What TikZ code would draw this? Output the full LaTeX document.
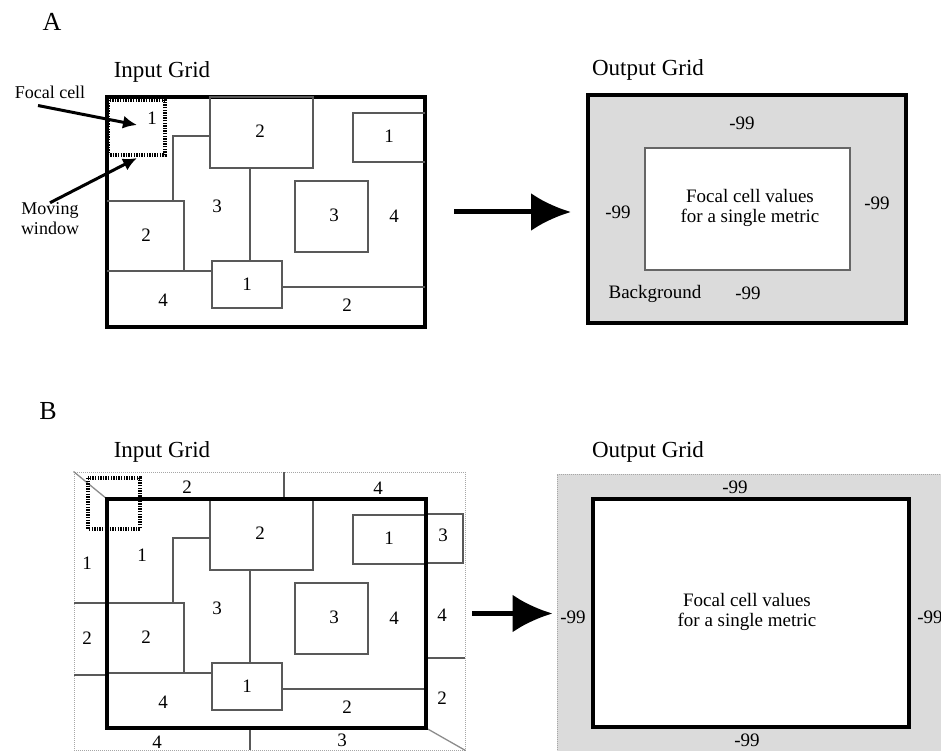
\documentclass[tikz,border=0pt]{standalone}
\usepackage{fontspec}
\setmainfont{Liberation Serif}
\usetikzlibrary{arrows.meta,positioning,calc}

% shared patches of the input grid (A coordinates, px)
\newcommand{\gridcore}[1]{%
  \draw[cell] (210,97) rectangle (313,168);
  \draw[cell] (425,113) -- (353,113) -- (353,162) -- (425,162);
  \draw[cell] (173,200) -- (173,136) -- (210,136);
  \draw[cell] (107,201) -- (184,201) -- (184,271);
  \draw[cell] (107,271) -- (212,271);
  \draw[cell] (250,168) -- (250,261);
  \draw[cell] (212,261) rectangle (282,308);
  \draw[cell] (282,287) -- (425,287);
  \draw[cell] (295,181) rectangle (368,252);
  \node[lbl] (#1two)   at (260,131) {2};
  \node[lbl] (#1one)   at (389,136) {1};
  \node[lbl] (#1three) at (217,206) {3};
  \node[lbl] (#1thrb)  at (334,215) {3};
  \node[lbl] (#1four)  at (394,216) {4};
  \node[lbl] (#1twol)  at (146,235) {2};
  \node[lbl] (#1oneb)  at (247,284) {1};
  \node[lbl] (#1fourb) at (163,300) {4};
  \node[lbl] (#1twob)  at (347,305) {2};
}

\begin{document}
\begin{tikzpicture}[
  x=1pt, y=-1pt,
  lbl/.style={font=\fontsize{19}{20}\selectfont, inner sep=0pt, align=center},
  ttl/.style={font=\fontsize{23}{25}\selectfont, inner sep=0pt},
  pan/.style={font=\fontsize{26}{28}\selectfont, inner sep=0pt},
  frame/.style={draw=black, line width=4pt, inner sep=0pt},
  cell/.style={draw=black!65, line width=1.3pt},
  win/.style={draw=black, line width=3.5pt, dash pattern=on 1.4pt off 1.2pt},
  rim/.style={draw=black!35, line width=1pt, dash pattern=on 1pt off 1pt, inner sep=0pt},
  ar/.style={-{Latex[length=14pt,width=13pt]}, line width=3pt},
  bigar/.style={-{Latex[length=40pt,width=38pt]}, line width=5pt}
]
\useasboundingbox (0,0) rectangle (941,751);

% ---------------- A ----------------
\node[pan] (pA) at (52,22) {A};
\node[ttl] (inAt)  at (162,72) {Input Grid};
\node[ttl] (outAt) at (648,70) {Output Grid};

\node[frame, minimum width=318pt, minimum height=230pt] (inA) at (266,212) {};
\gridcore{a}
\draw[win] (108,100) rectangle (165,155);
\node[lbl] (afoc) at (152,118) {1};

\node[lbl, font=\fontsize{18}{20}\selectfont] (fcl) at (50,92) {Focal cell};
\node[lbl, font=\fontsize{18}{20}\selectfont] (mwl) at (50,219) {Moving\\window};
\coordinate (fcp) at (137,125);
\coordinate (mwp) at (137,158);
\draw[ar] (fcl.south) ++(-12,7) -- (fcp);
\draw[ar] (mwl.north) -- (mwp);

\node[frame, fill=black!14, minimum width=318pt, minimum height=228pt] (outA) at (747,209) {};
\node[draw=black!60, line width=1.3pt, fill=white, minimum width=205pt, minimum height=122pt]
     (coreA) at (747.5,209) {};
\node[lbl] (valA) at (750,208) {Focal cell values\\for a single metric};
\node[lbl] (nA1) at (742,123) {-99};
\node[lbl] (nA2) at (618,212) {-99};
\node[lbl] (nA3) at (877,203) {-99};
\node[lbl] (nA4) at (748,293) {-99};
\node[lbl] (bgA) at (655,294) {Background};

\draw[bigar, shorten <=27pt, shorten >=15pt] (inA.east) -- (inA.east -| outA.west);

% ---------------- B ----------------
\node[pan] (pB) at (48,411) {B};
\node[ttl] (inBt)  at (162,452) {Input Grid};
\node[ttl] (outBt) at (648,452) {Output Grid};

\node[rim, minimum width=391pt, minimum height=278pt] (rimB) at (269.5,611) {};
\draw[cell, draw=black!45] (rimB.north west) -- (107,499);
\draw[cell, draw=black!45] (426,728) -- (rimB.south east);
\draw[cell] (284,472) -- (284,499);
\draw[cell] (74,603) -- (107,603);
\draw[cell] (74,675) -- (107,675);
\draw[cell] (425,514) -- (463,514) -- (463,563) -- (425,563);
\draw[cell] (426,658) -- (465,658);
\draw[cell] (250,728) -- (250,750);
\begin{scope}[shift={(0,402)}]
  \gridcore{b}
\end{scope}
\node[frame, minimum width=319pt, minimum height=229pt] (inB) at (266.5,613.5) {};
\node[lbl] (bone)  at (142,555) {1};
\node[lbl] (stA)   at (187,487) {2};
\node[lbl] (stB)   at (378,488) {4};
\node[lbl] (stC)   at (87,563) {1};
\node[lbl] (stD)   at (87,638) {2};
\node[lbl] (stE)   at (443,535) {3};
\node[lbl] (stF)   at (442,615) {4};
\node[lbl] (stG)   at (442,698) {2};
\node[lbl] (stH)   at (157,742) {4};
\node[lbl] (stI)   at (342,740) {3};
\draw[win] (88,478) rectangle (140,529);

\node[rim, fill=black!14, minimum width=388pt, minimum height=281pt] (outB) at (751,614.5) {};
\node[frame, fill=white, minimum width=316pt, minimum height=228pt] (coreB) at (751,613) {};
\node[lbl] (valB) at (747,612) {Focal cell values\\for a single metric};
\node[lbl] (nB1) at (735,487) {-99};
\node[lbl] (nB2) at (573,617) {-99};
\node[lbl] (nB3) at (930,617) {-99};
\node[lbl] (nB4) at (747,740) {-99};

\draw[bigar, shorten <=44pt, shorten >=4pt] (inB.east) -- (inB.east -| outB.west);
\end{tikzpicture}
\end{document}
